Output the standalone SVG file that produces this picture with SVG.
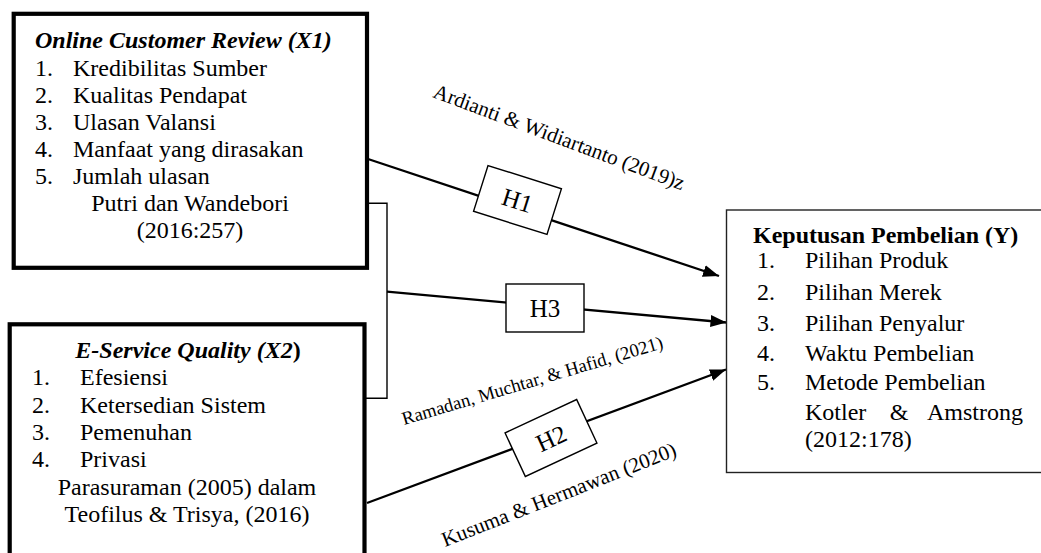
<svg xmlns="http://www.w3.org/2000/svg" width="1041" height="553" viewBox="0 0 1041 553">
<style>
text{font-family:"Liberation Serif","Times New Roman",serif;fill:#000}
.t{font-size:24px}
.bi{font-weight:bold;font-style:italic}
.b{font-weight:bold}
.c{text-anchor:middle}
.thick{fill:#fff;stroke:#000;stroke-width:4.2}
.thin{fill:#fff;stroke:#222;stroke-width:1.4}
.hb{fill:#fff;stroke:#000;stroke-width:1.4}
.conn{fill:none;stroke:#000;stroke-width:2.3}
.br{fill:none;stroke:#000;stroke-width:1.4}
.h{font-size:25px;text-anchor:middle}
</style>
<defs>
<marker id="ah" viewBox="0 0 16 12" refX="16" refY="6" markerWidth="16" markerHeight="12" markerUnits="userSpaceOnUse" orient="auto">
<path d="M0,0 L16,6 L0,12 z" fill="#000"/>
</marker>
</defs>
<g id="connectors">
<path class="br" d="M368,203.3 H387 V398.3 H366"/>
<line class="conn" x1="368" y1="159" x2="719" y2="276" marker-end="url(#ah)"/>
<line class="conn" x1="387" y1="291.7" x2="726.5" y2="322.5" marker-end="url(#ah)"/>
<line class="conn" x1="367" y1="503" x2="726" y2="369.5" marker-end="url(#ah)"/>
<text style="font-size:21px" transform="translate(432,97) rotate(20.5)">Ardianti &amp; Widiartanto (2019)z</text>
<text style="font-size:18.6px" transform="translate(404,425) rotate(-16.5)">Ramadan, Muchtar, &amp; Hafid, (2021)</text>
<text style="font-size:21px" transform="translate(445,547) rotate(-21.5)">Kusuma &amp; Hermawan (2020)</text>
</g>
<g id="h1" transform="translate(517.5,200) rotate(17.5)">
<rect class="hb" x="-38.5" y="-24" width="77" height="48"/>
<text class="h" x="0" y="9">H1</text>
</g>
<g id="h3">
<rect class="hb" x="506" y="284" width="78" height="48"/>
<text class="h" x="545" y="317">H3</text>
</g>
<g id="h2" transform="translate(551,438) rotate(-25)">
<rect class="hb" x="-39.5" y="-24" width="79" height="48"/>
<text class="h" x="0" y="9">H2</text>
</g>
<g id="x1">
<rect class="thick" x="13.7" y="13.8" width="353.3" height="254"/>
<text class="t bi" x="35" y="48">Online Customer Review (X1)</text>
<text class="t" x="35" y="75.5">1.</text><text class="t" x="73" y="75.5">Kredibilitas Sumber</text>
<text class="t" x="35" y="102.6">2.</text><text class="t" x="73" y="102.6">Kualitas Pendapat</text>
<text class="t" x="35" y="129.7">3.</text><text class="t" x="73" y="129.7">Ulasan Valansi</text>
<text class="t" x="35" y="156.8">4.</text><text class="t" x="73" y="156.8">Manfaat yang dirasakan</text>
<text class="t" x="35" y="184">5.</text><text class="t" x="73" y="184">Jumlah ulasan</text>
<text class="t c" x="190" y="211">Putri dan Wandebori</text>
<text class="t c" x="190" y="238">(2016:257)</text>
</g>
<g id="x2">
<rect class="thick" x="9.7" y="324.3" width="354.8" height="240"/>
<text class="t bi c" x="188" y="358">E-Service Quality (X2<tspan style="font-style:normal">)</tspan></text>
<text class="t" x="32" y="385.3">1.</text><text class="t" x="80" y="385.3">Efesiensi</text>
<text class="t" x="32" y="412.6">2.</text><text class="t" x="80" y="412.6">Ketersedian Sistem</text>
<text class="t" x="32" y="440">3.</text><text class="t" x="80" y="440">Pemenuhan</text>
<text class="t" x="32" y="467.2">4.</text><text class="t" x="80" y="467.2">Privasi</text>
<text class="t c" x="187" y="494.5">Parasuraman (2005) dalam</text>
<text class="t c" x="187" y="522">Teofilus &amp; Trisya, (2016)</text>
</g>
<g id="y">
<rect class="thin" x="726.5" y="210" width="330" height="262.5"/>
<text class="t b" x="753" y="243">Keputusan Pembelian (Y)</text>
<text class="t" x="757" y="268">1.</text><text class="t" x="805" y="268">Pilihan Produk</text>
<text class="t" x="757" y="299.5">2.</text><text class="t" x="805" y="299.5">Pilihan Merek</text>
<text class="t" x="757" y="330.5">3.</text><text class="t" x="805" y="330.5">Pilihan Penyalur</text>
<text class="t" x="757" y="360.5">4.</text><text class="t" x="805" y="360.5">Waktu Pembelian</text>
<text class="t" x="757" y="390">5.</text><text class="t" x="805" y="390">Metode Pembelian</text>
<text class="t" x="805" y="420">Kotler</text><text class="t c" x="899" y="420">&amp;</text><text class="t" x="1023" y="420" style="text-anchor:end">Amstrong</text>
<text class="t" x="805" y="447">(2012:178)</text>
</g>
</svg>
